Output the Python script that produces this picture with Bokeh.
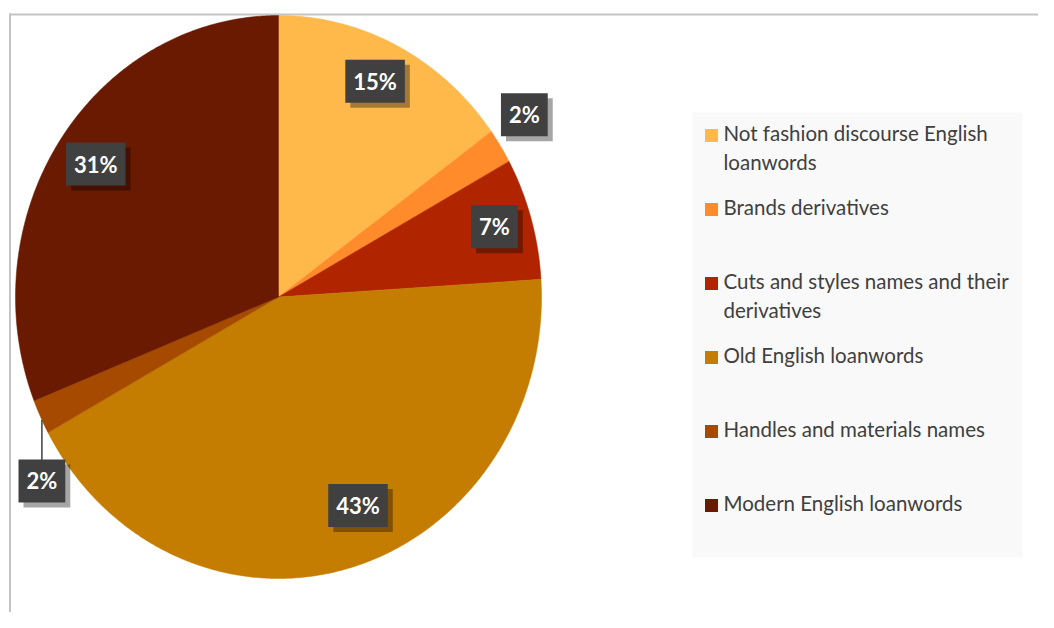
import numpy as np
from bokeh.plotting import figure
from bokeh.models import Range1d
from bokeh.core.properties import value
from bokeh.embed import file_html
from bokeh.resources import INLINE

# ---- data ----
categories = ["Not fashion discourse English loanwords",
              "Brands derivatives",
              "Cuts and styles names and their derivatives",
              "Old English loanwords",
              "Handles and materials names",
              "Modern English loanwords"]
shares = [15, 2, 7, 43, 2, 31]
colors = ["#FFB94B", "#FF8B2B", "#B02500", "#C47D00", "#A64A00", "#6A1A00"]
legend_lines = [["Not fashion discourse English", "loanwords"],
                ["Brands derivatives"],
                ["Cuts and styles names and their", "derivatives"],
                ["Old English loanwords"],
                ["Handles and materials names"],
                ["Modern English loanwords"]]

# ---- layout ----
W, H = 1038, 612
OFF = 0
CX, CY = 278, 296.5      # pie centre in page pixels
RX, RY = 263, 281.5      # pie radii in pixels

x_start = -(CX - OFF) / RX
x_end = (W - (CX - OFF)) / RX
y_end = (CY - OFF) / RY
y_start = -(H - (CY - OFF)) / RY

def px(X):
    return (X - CX) / RX

def py(Y):
    return -(Y - CY) / RY

label_r = [0.85, 1.137, 0.858, 0.80, 1.112, 0.84]
label_shift = [-1.4, -2.3, -0.7, -6.0, -10.8, 0.0]
FONT = "Lato"

p = figure(width=W, height=H, x_range=Range1d(x_start, x_end),
           y_range=Range1d(y_start, y_end), output_backend="svg",
           toolbar_location=None, min_border=0,
           x_axis_type=None, y_axis_type=None)
p.grid.visible = False
p.outline_line_color = None
p.background_fill_color = "white"
p.border_fill_color = "white"

# chart frame
p.segment(x0=[px(9.5), px(8.5)], y0=[py(13), py(14)],
          x1=[px(9.5), px(1200)], y1=[py(800), py(14)],
          line_color="#C4C4C4", line_width=2)

# pie slices
total = float(sum(shares))
fr = np.cumsum([0] + shares) / total
xs, ys = [], []
for a0, a1 in zip(fr[:-1], fr[1:]):
    n = max(int((a1 - a0) * 720), 2) + 1
    t = np.linspace(a0, a1, n) * 2 * np.pi
    xs.append([0.0] + list(np.sin(t)))
    ys.append([0.0] + list(np.cos(t)))
p.patches(xs, ys, fill_color=colors, line_color=colors, line_width=0.5)

# data labels
mids = (fr[:-1] + fr[1:]) / 2 * 360
lx, ly, lt = [], [], []
for m, r, s, v in zip(mids, label_r, label_shift, shares):
    th = np.deg2rad(m + s)
    lx.append(r * np.sin(th))
    ly.append(r * np.cos(th))
    lt.append(f"{v}%")

# leader line for labels outside pie on the lower left
for x, y, r in zip(lx, ly, label_r):
    if r > 1 and y < 0:
        p.segment(x0=[x], y0=[-np.sqrt(max(0.0, 1 - x * x))], x1=[x],
                  y1=[y + 20 / RY], line_color="#404040", line_width=1.5)

p.text(x=lx, y=ly, text=lt, text_alpha=0, x_offset=5, y_offset=5,
       text_font=value(FONT), text_font_style="bold", text_font_size="22px",
       text_align="center", text_baseline="middle",
       background_fill_color="black", background_fill_alpha=0.35, padding=8)
p.text(x=lx, y=ly, text=lt, text_color="white",
       text_font=value(FONT), text_font_style="bold", text_font_size="22px",
       text_align="center", text_baseline="middle",
       background_fill_color="#404040", padding=8)

# legend
p.quad(left=[px(692)], right=[px(1022)], top=[py(112)], bottom=[py(557)],
       fill_color="#F9F9F9", line_color=None)
sq_y = [py(135 + 74 * i) for i in range(len(categories))]
p.scatter(x=[px(711)] * len(categories), y=sq_y, marker="square", size=13,
          fill_color=colors, line_color=None)
tx, ty, tt = [], [], []
for i, lines in enumerate(legend_lines):
    for j, ln in enumerate(lines):
        tx.append(px(723))
        ty.append(py(132 + 74 * i + 29 * j))
        tt.append(ln)
p.text(x=tx, y=ty, text=tt, text_color="#404040", text_font=value(FONT),
       text_font_size="20.5px", text_align="left", text_baseline="middle")

open("out.html", "w").write(file_html(p, INLINE))
